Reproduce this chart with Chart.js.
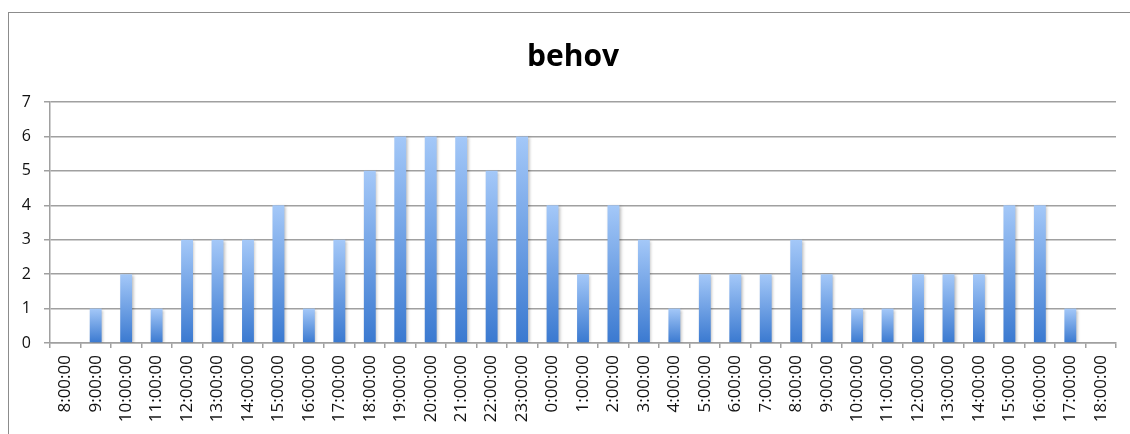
<!DOCTYPE html>
<html>
<head>
<meta charset="utf-8">
<title>behov</title>
<script src="https://cdn.jsdelivr.net/npm/chart.js@4/dist/chart.umd.min.js"></script>
<style>
  html, body { margin: 0; padding: 0; background: #ffffff; overflow: hidden; }
  #wrap { position: relative; width: 1130px; height: 434px; }
  #frame {
    position: absolute; left: 8px; top: 12px; width: 1400px; height: 700px;
    border: 1px solid #8c8c8c; box-sizing: border-box; pointer-events: none;
  }
  canvas { position: absolute; left: 0; top: 0; }
</style>
</head>
<body>
<div id="wrap">
  <canvas id="chart" width="1130" height="434"></canvas>
  <div id="frame"></div>
</div>
<script>
// Hourly slots, from 8:00 one day to 18:00 the next
const hours = [
  '8:00:00', '9:00:00', '10:00:00', '11:00:00', '12:00:00', '13:00:00', '14:00:00',
  '15:00:00', '16:00:00', '17:00:00', '18:00:00', '19:00:00', '20:00:00', '21:00:00',
  '22:00:00', '23:00:00', '0:00:00', '1:00:00', '2:00:00', '3:00:00', '4:00:00',
  '5:00:00', '6:00:00', '7:00:00', '8:00:00', '9:00:00', '10:00:00', '11:00:00',
  '12:00:00', '13:00:00', '14:00:00', '15:00:00', '16:00:00', '17:00:00', '18:00:00'
];

// Need per hour
const behov = [
  0, 1, 2, 1, 3, 3, 3,
  4, 1, 3, 5, 6, 6, 6,
  5, 6, 4, 2, 4, 3, 1,
  2, 2, 2, 3, 2, 1, 1,
  2, 2, 2, 4, 4, 1, 0
];

const yTicks = [0, 1, 2, 3, 4, 5, 6, 7];

// Each bar gets its own vertical gradient, light at the top, deeper blue at the base
function barGradient(context) {
  const chart = context.chart;
  if (!chart.chartArea || !context.parsed) return '#6a9fe6';
  const y = chart.scales.y;
  const top = y.getPixelForValue(context.parsed.y);
  const base = y.getPixelForValue(0);
  if (!isFinite(top) || top === base) return '#6a9fe6';
  const g = chart.ctx.createLinearGradient(0, top, 0, base);
  g.addColorStop(0, '#a4c8f8');
  g.addColorStop(1, '#3a79d0');
  return g;
}

// Soft drop shadow under the bars
const barShadow = {
  id: 'barShadow',
  beforeDatasetsDraw(chart) {
    const c = chart.ctx;
    c.save();
    c.shadowColor = 'rgba(0, 0, 0, 0.28)';
    c.shadowBlur = 3;
    c.shadowOffsetX = 1.5;
    c.shadowOffsetY = 1;
  },
  afterDatasetsDraw(chart) {
    chart.ctx.restore();
  }
};

// Centre the title on the outer frame rather than on the canvas
const titleShift = {
  id: 'titleShift',
  afterLayout(chart) {
    const t = chart.titleBlock;
    if (t) { t.left += 15; t.right += 15; }
  }
};

const axisGray = '#a0a0a0';

new Chart(document.getElementById('chart'), {
  type: 'bar',
  data: {
    labels: hours,
    datasets: [{
      label: 'behov',
      data: behov,
      backgroundColor: barGradient,
      borderWidth: 0,
      barPercentage: 0.39,
      categoryPercentage: 1.0
    }]
  },
  plugins: [barShadow, titleShift],
  options: {
    responsive: false,
    animation: false,
    devicePixelRatio: 1,
    layout: { padding: { left: 0, right: 14, top: 0, bottom: 0 } },
    plugins: {
      legend: { display: false },
      tooltip: { enabled: false },
      title: {
        display: true,
        text: 'behov',
        color: '#000000',
        font: { family: '"Open Sans", sans-serif', size: 30, weight: 'bold' },
        padding: { top: 39, bottom: 27 }
      }
    },
    scales: {
      x: {
        offset: true,
        grid: {
          offset: true,
          drawOnChartArea: false,
          drawTicks: true,
          tickLength: 5,
          color: axisGray,
          lineWidth: 1.5
        },
        border: { display: true, color: axisGray, width: 1.5 },
        ticks: {
          autoSkip: false,
          minRotation: 90,
          maxRotation: 90,
          padding: 7,
          color: '#111111',
          font: { family: '"Open Sans", sans-serif', size: 17 }
        },
        afterFit(scale) { scale.height = 91; }
      },
      y: {
        min: 0,
        max: 7,
        afterBuildTicks(scale) { scale.ticks = yTicks.map(v => ({ value: v })); },
        grid: {
          drawTicks: true,
          tickLength: 6,
          color: axisGray,
          lineWidth: 1.5
        },
        border: { display: true, color: axisGray, width: 1.5 },
        ticks: {
          padding: 13,
          color: '#111111',
          font: { family: '"Open Sans", sans-serif', size: 16 }
        },
        afterFit(scale) { scale.width = 50; }
      }
    }
  }
});
</script>
</body>
</html>
